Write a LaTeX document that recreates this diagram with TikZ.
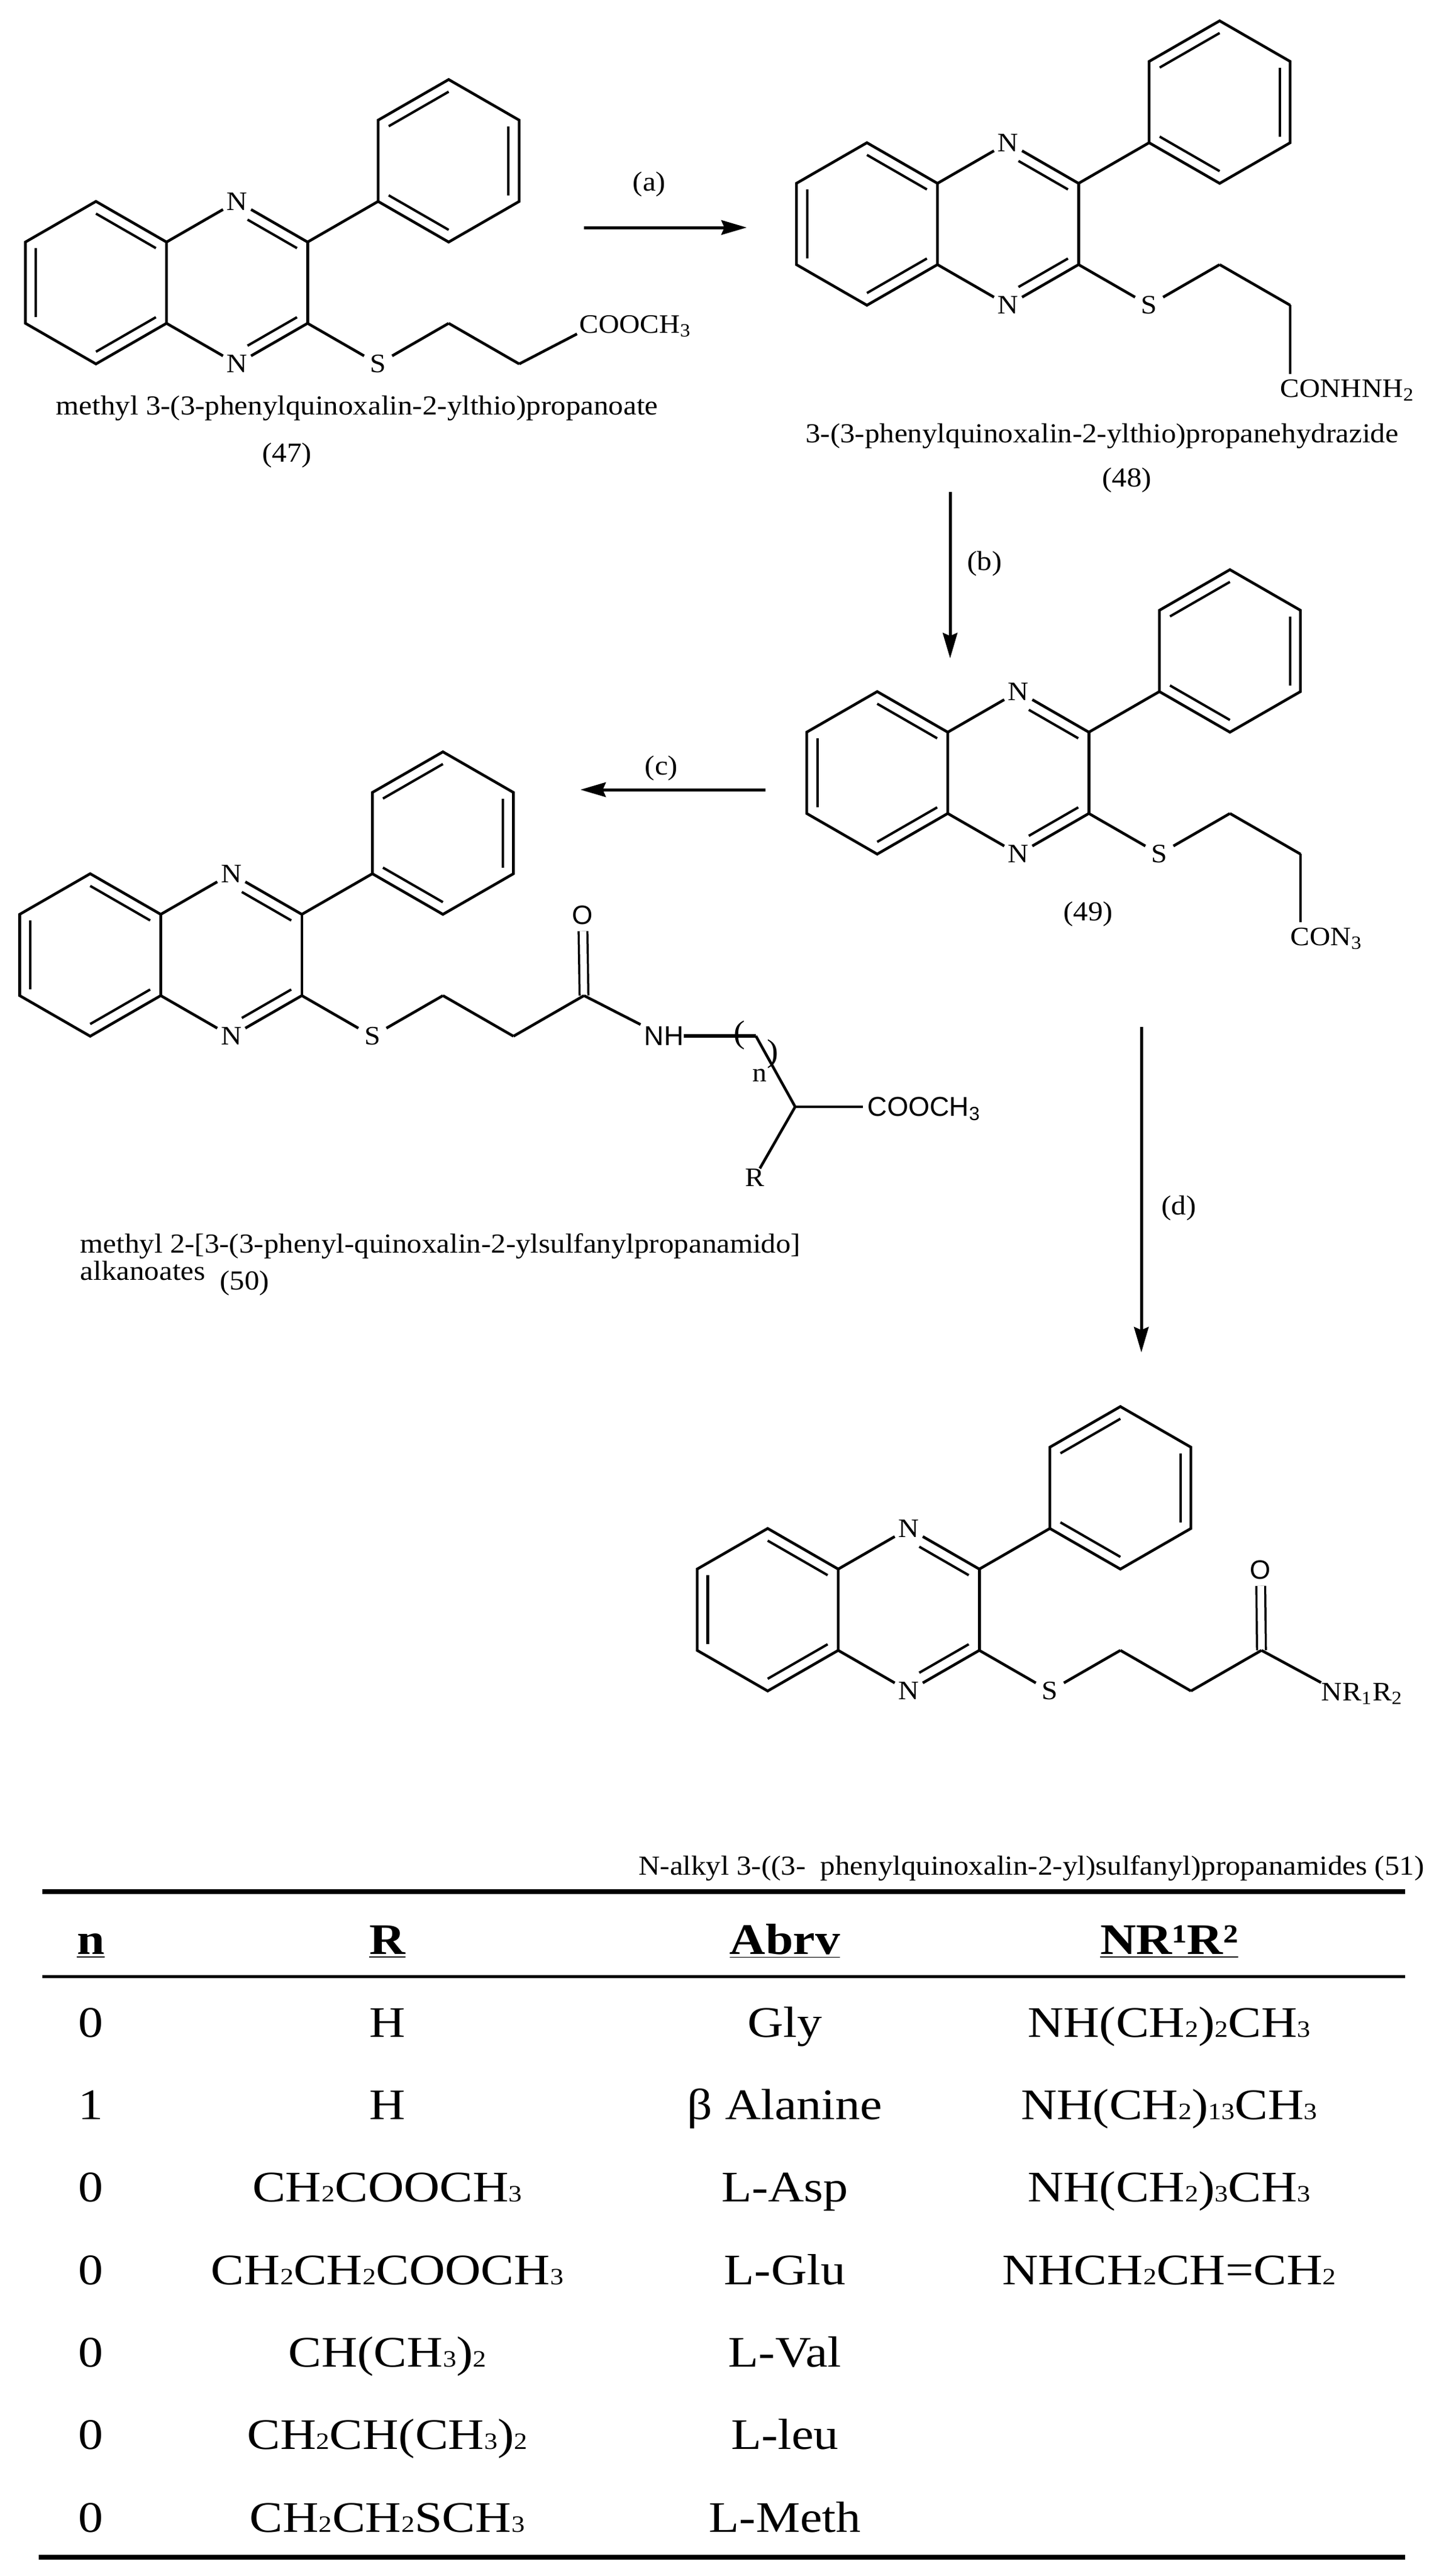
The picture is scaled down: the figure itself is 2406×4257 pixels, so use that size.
\documentclass[tikz,border=0pt]{standalone}
\usepackage{fontspec}
\setmainfont[FakeStretch=1.08]{Liberation Serif}
\setsansfont{Liberation Sans}
\newfontfamily\tablefont[FakeStretch=1.14]{Liberation Serif}
\usepackage{tikz}
\usetikzlibrary{arrows.meta}
\usetikzlibrary{calc}
\usetikzlibrary{positioning}
\tikzstyle{every node}+=[inner sep=0pt]
\tikzstyle{atom} = [circle, minimum size=.52cm, font=\fontsize{12.5}{15}\selectfont]
\tikzstyle{atomsf} = [circle, minimum size=.52cm, font=\sffamily\fontsize{12.5}{15}\selectfont]
\tikzstyle{group} = [font=\fontsize{12.5}{15}\selectfont]
\tikzstyle{groupsf} = [font=\sffamily\fontsize{12.8}{15}\selectfont]
\tikzstyle{value} = [font=\fontsize{12.9}{15}\selectfont]
\tikzstyle{bond} = [draw, line width=.045cm]
\tikzstyle{innerbond} = [draw, line width=.04cm]
\tikzstyle{line} = [draw, line width=.05cm, -{Stealth[length=.42cm,width=.24cm,inset=.05cm]}]
\tikzstyle{tablerule} = [draw, line width=.084cm]
\tikzstyle{cell} = [font=\tablefont\fontsize{20.5}{23}\selectfont, text height=.48cm, text depth=.14cm, node distance=1.363cm]
\tikzstyle{head} = [font=\tablefont\bfseries\fontsize{20.5}{23}\selectfont, text height=.48cm, text depth=.14cm]
\newcommand{\lo}[1]{{\fontsize{11}{11}\selectfont #1}}

% quinoxaline core with phenyl and S-chain: prefix, x, y
\newcommand{\quinox}[3]{%
  \begin{scope}[shift={(#2,#3)}, x=1.165cm, y=.671cm]
    % Place nodes
    \coordinate (#1c5) at (0,0);
    \coordinate (#1c6) at (1,1);
    \coordinate (#1c4a) at (2,0);
    \coordinate (#1c8a) at (2,-2);
    \coordinate (#1c7) at (1,-3);
    \coordinate (#1c8) at (0,-2);
    \coordinate (#1c3) at (4,0);
    \coordinate (#1c2) at (4,-2);
    \coordinate (#1p1) at (5,1);
    \coordinate (#1p2) at (6,0);
    \coordinate (#1p3) at (7,1);
    \coordinate (#1p4) at (7,3);
    \coordinate (#1p5) at (6,4);
    \coordinate (#1p6) at (5,3);
    \coordinate (#1e1) at (6,-2);
    \coordinate (#1e2) at (7,-3);
    \coordinate (#1e3) at (8,-2);
    \coordinate (#1mid) at (1,-1);
    \coordinate (#1pz) at (3,-1);
    \coordinate (#1ph) at (6,2);
    \node [atom] (#1n1) at (3,1) {N};
    \node [atom] (#1n4) at (3,-3) {N};
    \node [atom] (#1s) at (5,-3) {S};
    % Draw edges
    \path [bond] (#1c5) -- (#1c6) -- (#1c4a) -- (#1c8a) -- (#1c7) -- (#1c8) -- cycle;
    \path [bond] (#1c4a) -- (#1n1);
    \path [bond] (#1n1) -- (#1c3);
    \path [bond] (#1c3) -- (#1c2);
    \path [bond] (#1c2) -- (#1n4);
    \path [bond] (#1n4) -- (#1c8a);
    \path [bond] (#1c3) -- (#1p1);
    \path [bond] (#1p1) -- (#1p2) -- (#1p3) -- (#1p4) -- (#1p5) -- (#1p6) -- cycle;
    \path [bond] (#1c2) -- (#1s);
    \path [bond] (#1s) -- (#1e1);
    \path [bond] (#1e1) -- (#1e2);
    % Inner lines of the double bonds
    \path [innerbond] ($(#1c5)!.15!(#1mid)$) -- ($(#1c8)!.15!(#1mid)$);
    \path [innerbond] ($(#1c6)!.15!(#1mid)$) -- ($(#1c4a)!.15!(#1mid)$);
    \path [innerbond] ($(#1c7)!.15!(#1mid)$) -- ($(#1c8a)!.15!(#1mid)$);
    \path [innerbond, shorten <=.2cm] ($(#1n1)!.15!(#1pz)$) -- ($(#1c3)!.15!(#1pz)$);
    \path [innerbond, shorten <=.2cm] ($(#1n4)!.15!(#1pz)$) -- ($(#1c2)!.15!(#1pz)$);
    \path [innerbond] ($(#1p1)!.15!(#1ph)$) -- ($(#1p2)!.15!(#1ph)$);
    \path [innerbond] ($(#1p3)!.15!(#1ph)$) -- ($(#1p4)!.15!(#1ph)$);
    \path [innerbond] ($(#1p5)!.15!(#1ph)$) -- ($(#1p6)!.15!(#1ph)$);
  \end{scope}}

\begin{document}
\begin{tikzpicture}[x=.01cm, y=-.01cm, node distance=2cm]
  \useasboundingbox (0,0) rectangle (2406,4257);

  % Compound 47
  \quinox{a-}{42}{400}
  \node [group, anchor=base west] (a-ester) at (957,550) {COOCH\textsubscript{3}};
  \path [bond, shorten >=.04cm] (a-e2) -- (a-ester.base west);
  \node [value] (a-name) at (590,675) {methyl 3-(3-phenylquinoxalin-2-ylthio)propanoate};
  \node [value] (a-num) at (474,753) {(47)};

  % Compound 48
  \quinox{b-}{1316}{303}
  \node [group, anchor=base west] (b-hydr) at (2115,656) {CONHNH\textsubscript{2}};
  \path [bond, shorten >=.08cm] (b-e2) -- (b-e2 |- b-hydr.north);
  \node [value] (b-name) at (1821,721) {3-(3-phenylquinoxalin-2-ylthio)propanehydrazide};
  \node [value] (b-num) at (1862,794) {(48)};

  % Compound 49
  \quinox{c-}{1333}{1210}
  \node [group, anchor=base west] (c-azide) at (2132,1562) {CON\textsubscript{3}};
  \path [bond, shorten >=.08cm] (c-e2) -- (c-e2 |- c-azide.north);
  \node [value] (c-num) at (1798,1511) {(49)};

  % Compound 50
  \quinox{d-}{32.5}{1511}
  \node [atomsf] (d-o) at (963,1512) {O};
  \node [groupsf] (d-nh) at (1097,1712) {NH};
  \coordinate (d-ch2) at (1249,1712);
  \coordinate (d-ch) at (1314,1829);
  \node [groupsf, anchor=base west] (d-ester) at (1433,1844) {COOCH\textsubscript{3}};
  \node [group] (d-r) at (1247,1946) {R};
  \node [group, font=\fontsize{15}{18}\selectfont] (d-po) at (1222,1711) {(};
  \node [group, font=\fontsize{15}{18}\selectfont] (d-pc) at (1277,1742) {)};
  \node [group] (d-n) at (1255,1777) {n};
  \path [bond, double, double distance=.11cm, line width=.035cm] (d-e3) -- (d-o);
  \path [bond] (d-e2) -- (d-e3);
  \path [bond, shorten >=.06cm] (d-e3) -- (d-nh.north west);
  \path [bond, line width=.06cm] (d-nh.east) -- (d-ch2);
  \path [bond] (d-ch2) -- (d-ch);
  \path [bond, shorten >=.07cm] (d-ch) -- (d-ch -| d-ester.west);
  \path [bond] (d-ch) -- (d-r);
  \node [value, anchor=base west] (d-name) at (132,2070) {methyl 2-[3-(3-phenyl-quinoxalin-2-ylsulfanylpropanamido]};
  \node [value, anchor=base west] (d-name2) at (132,2115) {alkanoates};
  \node [value] (d-num) at (404,2121) {(50)};

  % Compound 51
  \quinox{e-}{1152}{2593}
  \node [atomsf] (e-o) at (2083,2594) {O};
  \node [group, anchor=base west] (e-nrr) at (2183,2810) {NR\textsubscript{1}R\textsubscript{2}};
  \path [bond, double, double distance=.11cm, line width=.035cm] (e-e3) -- (e-o);
  \path [bond] (e-e2) -- (e-e3);
  \path [bond] (e-e3) -- (e-nrr.north west);
  \node [value, anchor=base east] (e-name) at (2354,3098) {N-alkyl 3-((3-\ \ phenylquinoxalin-2-yl)sulfanyl)propanamides (51)};

  % Reaction arrows
  \coordinate (ra0) at (965,376);
  \coordinate (ra1) at (1234,376);
  \coordinate (rb0) at (1570,813);
  \coordinate (rb1) at (1570,1088);
  \coordinate (rc0) at (1265,1305);
  \coordinate (rc1) at (959,1305);
  \coordinate (rd0) at (1886,1697);
  \coordinate (rd1) at (1886,2235);
  \path [line] (ra0) -- (ra1);
  \path [line] (rb0) -- (rb1);
  \path [line] (rc0) -- (rc1);
  \path [line] (rd0) -- (rd1);
  \node [value] (la) at (1073,305) {(a)};
  \node [value] (lb) at (1627,932) {(b)};
  \node [value] (lc) at (1093,1270) {(c)};
  \node [value] (ld) at (1948,1997) {(d)};

  % Table rules
  \coordinate (t0l) at (70,3126);
  \coordinate (t0r) at (2322,3126);
  \coordinate (t1l) at (70,3266);
  \coordinate (t1r) at (2322,3266);
  \coordinate (t2l) at (64,4226);
  \coordinate (t2r) at (2322,4226);
  \path [tablerule] (t0l) -- (t0r);
  \path [draw, line width=.05cm] (t1l) -- (t1r);
  \path [tablerule] (t2l) -- (t2r);

  % Table head
  \node [head] (hn) at (150,3212) {\underline{n}};
  \node [head] (hr) at (640,3212) {\underline{R}};
  \node [head] (ha) at (1297,3212) {\underline{Abrv}};
  \node [head] (hq) at (1932,3212) {\underline{NR¹R²}};

  % Table rows
  \node [cell] (n1) at (150,3349) {0};
  \node [cell, below of=n1] (n2) {1};
  \node [cell, below of=n2] (n3) {0};
  \node [cell, below of=n3] (n4) {0};
  \node [cell, below of=n4] (n5) {0};
  \node [cell, below of=n5] (n6) {0};
  \node [cell, below of=n6] (n7) {0};
  \node [cell] (r1) at (640,3349) {H};
  \node [cell, below of=r1] (r2) {H};
  \node [cell, below of=r2] (r3) {CH\lo{2}COOCH\lo{3}};
  \node [cell, below of=r3] (r4) {CH\lo{2}CH\lo{2}COOCH\lo{3}};
  \node [cell, below of=r4] (r5) {CH(CH\lo{3})\lo{2}};
  \node [cell, below of=r5] (r6) {CH\lo{2}CH(CH\lo{3})\lo{2}};
  \node [cell, below of=r6] (r7) {CH\lo{2}CH\lo{2}SCH\lo{3}};
  \node [cell] (a1) at (1297,3349) {Gly};
  \node [cell, below of=a1] (a2) {β Alanine};
  \node [cell, below of=a2] (a3) {L-Asp};
  \node [cell, below of=a3] (a4) {L-Glu};
  \node [cell, below of=a4] (a5) {L-Val};
  \node [cell, below of=a5] (a6) {L-leu};
  \node [cell, below of=a6] (a7) {L-Meth};
  \node [cell] (q1) at (1932,3349) {NH(CH\lo{2})\lo{2}CH\lo{3}};
  \node [cell, below of=q1] (q2) {NH(CH\lo{2})\lo{13}CH\lo{3}};
  \node [cell, below of=q2] (q3) {NH(CH\lo{2})\lo{3}CH\lo{3}};
  \node [cell, below of=q3] (q4) {NHCH\lo{2}CH=CH\lo{2}};
\end{tikzpicture}
\end{document}
